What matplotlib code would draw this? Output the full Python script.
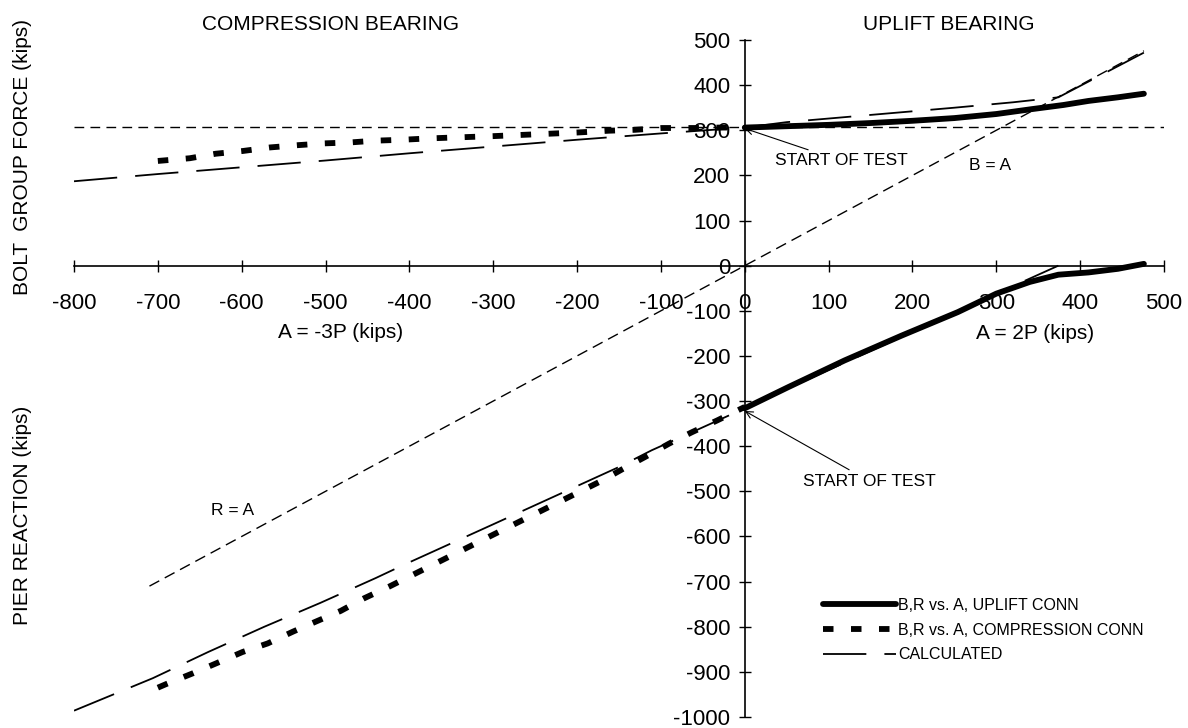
import matplotlib
matplotlib.use('Agg')
import matplotlib.pyplot as plt
import numpy as np

plt.rcParams['font.family'] = ['Liberation Sans', 'DejaVu Sans']
plt.rcParams['axes.unicode_minus'] = False

# --- measured data, A (kips) ---
# uplift connection: bolt group force B and pier reaction R
uplift_a_b = [0, 50, 100, 150, 200, 250, 300, 343, 380, 410, 445, 476]
uplift_b = [306, 309, 312, 316, 321, 327, 336, 347, 356, 365, 373, 381]
uplift_a_r = [0, 52, 119, 187, 254, 300, 340, 374, 410, 445, 476]
uplift_r = [-316, -269, -210, -155, -103, -62, -36, -20, -15, -7, 4]

# compression connection
comp_a_b = [-700, -662, -631, -599, -566, -533, -501, -471, -440, -408, -376,
            -346, -300, -250, -200, -162, -131, -99, -60, -30, 0]
comp_b = [232, 238, 248, 254, 262, 267, 271, 273, 277, 279, 282,
          284, 287, 291, 295, 299, 301, 305, 305, 306, 306]
comp_a_r = [-700, -690, -658, -629, -599, -569, -539, -512, -482, -454, -424,
            -300, -170, -146, -119, -90, -63, -33, 0]
comp_r = [-935, -927, -903, -880, -856, -837, -811, -789, -765, -737, -711,
          -596, -476, -451, -424, -394, -369, -343, -313]

# calculated curves
calc_a_b = [-800, -700, -600, -500, -400, -300, -200, -100, 0,
            50, 150, 250, 320, 374, 476]
calc_b = [187, 203, 218, 233, 249, 264, 279, 293, 306,
          318, 334, 350, 362, 373, 472]
calc_a_r = [-800, -706, -640, -573, -506, -440, -408, -300, -150, -111, -63, 0,
            100, 200, 300, 374]
calc_r = [-986, -914, -856, -800, -747, -692, -664, -573, -446, -409, -369, -316,
          -231, -147, -62, 0]

# reference lines: B = A / R = A, and initial bolt force
ref_a = [-710, 476]
ref_b = [-710, 476]
init_a = [-800, 500]
init_b = [307, 307]

fig = plt.figure(figsize=(11.88, 7.28), dpi=100)
ax = fig.add_axes([74 / 1188, 11 / 728, 1090 / 1188, 677 / 728])
ax.set_xlim(-800, 500)
ax.set_ylim(-1000, 500)

ax.plot(init_a, init_b, color='black', lw=1.0, dashes=(7, 4.5))
ax.plot(ref_a, ref_b, color='black', lw=1.0, dashes=(8, 4.5))
ax.plot(calc_a_b, calc_b, color='black', lw=1.3, dashes=(24, 10), label='CALCULATED')
ax.plot(calc_a_r, calc_r, color='black', lw=1.3, dashes=(24, 10))
ax.plot(uplift_a_b, uplift_b, color='black', lw=4.2, solid_capstyle='round',
        solid_joinstyle='round', label='B,R vs. A, UPLIFT CONN')
ax.plot(uplift_a_r, uplift_r, color='black', lw=4.2, solid_capstyle='round',
        solid_joinstyle='round')
ax.plot(comp_a_b, comp_b, color='black', lw=4.2, dashes=(1.8, 3),
        label='B,R vs. A, COMPRESSION CONN')
ax.plot(comp_a_r, comp_r, color='black', lw=4.2, dashes=(1.8, 3))

# axes through the origin
for s in ['top', 'right']:
    ax.spines[s].set_visible(False)
ax.spines['left'].set_position(('data', 0))
ax.spines['bottom'].set_position(('data', 0))
ax.spines['left'].set_linewidth(1.2)
ax.spines['bottom'].set_linewidth(1.2)
ax.set_xticks(np.arange(-800, 501, 100))
ax.set_yticks(np.arange(-1000, 501, 100))
ax.tick_params(direction='inout', length=9, width=1, labelsize=16)
ax.tick_params(axis='x', pad=15)
ax.tick_params(axis='y', pad=6)

# annotations
ax.annotate('START OF TEST', xy=(0, 304), xytext=(36, 232), fontsize=12.5,
            ha='left', va='center',
            arrowprops=dict(arrowstyle='->', color='black', lw=0.8, shrinkA=2, shrinkB=0))
ax.annotate('START OF TEST', xy=(0, -322), xytext=(70, -478), fontsize=12.5,
            ha='left', va='center',
            arrowprops=dict(arrowstyle='->', color='black', lw=0.8, shrinkA=2, shrinkB=0))
ax.text(292, 221, 'B = A', fontsize=12.5, ha='center', va='center')
ax.text(-611, -542, 'R = A', fontsize=12.5, ha='center', va='center')
ax.text(-482, -148, 'A = -3P (kips)', fontsize=15, ha='center', va='center')
ax.text(346, -150, 'A = 2P (kips)', fontsize=15, ha='center', va='center')

fig.text(331 / 1188, 1 - 25 / 728, 'COMPRESSION BEARING', fontsize=15, ha='center', va='center')
fig.text(949 / 1188, 1 - 25 / 728, 'UPLIFT BEARING', fontsize=15, ha='center', va='center')
fig.text(23 / 1188, 1 - 157 / 728, 'BOLT  GROUP FORCE (kips)', fontsize=15,
         rotation=90, ha='center', va='center')
fig.text(23 / 1188, 1 - 515 / 728, 'PIER REACTION (kips)', fontsize=15,
         rotation=90, ha='center', va='center')

handles, labels = ax.get_legend_handles_labels()
order = [1, 2, 0]
ax.legend([handles[i] for i in order], [labels[i] for i in order],
          loc='upper left', bbox_to_anchor=(823 / 1188, 1 - 598 / 728),
          bbox_transform=fig.transFigure, frameon=False, fontsize=11.5,
          handlelength=4.6, handletextpad=0.1, labelspacing=0.6,
          borderpad=0, borderaxespad=0)

fig.savefig('out.png', dpi=100)
